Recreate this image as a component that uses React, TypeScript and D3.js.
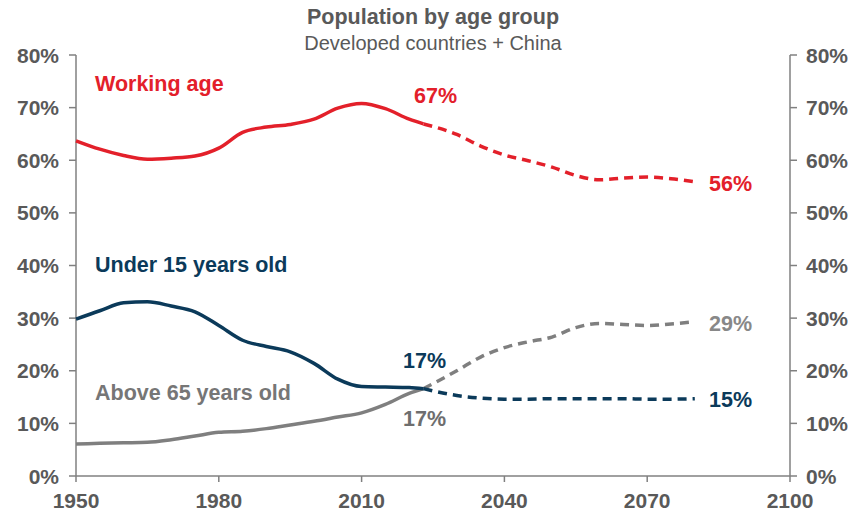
import React from "react";
import * as d3 from "d3";

// Share of population by age group, developed countries + China (%)
const histYears = [1950, 1955, 1960, 1965, 1970, 1975, 1980, 1985, 1990, 1995, 2000, 2005, 2010, 2015, 2020, 2023];
const projYears = [2023, 2030, 2035, 2040, 2045, 2050, 2055, 2060, 2065, 2070, 2075, 2080];

const workingHist = [63.7, 62.1, 60.9, 60.2, 60.4, 60.8, 62.3, 65.3, 66.3, 66.8, 67.8, 69.9, 70.8, 69.8, 67.8, 66.9];
const workingProj = [66.9, 64.9, 62.7, 61.0, 59.9, 58.7, 57.1, 56.3, 56.6, 56.8, 56.5, 55.9];

const under15Hist = [29.8, 31.4, 32.9, 33.1, 32.3, 31.2, 28.6, 25.8, 24.6, 23.6, 21.4, 18.4, 17.0, 16.9, 16.8, 16.6];
const under15Proj = [16.6, 15.3, 14.8, 14.6, 14.6, 14.7, 14.7, 14.7, 14.7, 14.6, 14.6, 14.7];

const over65Hist = [6.1, 6.2, 6.3, 6.4, 6.9, 7.6, 8.3, 8.5, 9.0, 9.7, 10.4, 11.2, 12.0, 13.6, 15.7, 16.6];
const over65Proj = [16.6, 20.0, 22.6, 24.4, 25.5, 26.4, 28.2, 29.0, 28.8, 28.6, 28.9, 29.3];

const xTicks = [1950, 1980, 2010, 2040, 2070, 2100];
const yTicks = [0, 10, 20, 30, 40, 50, 60, 70, 80];

const RED = "#E3202A";
const NAVY = "#0B3A5A";
const GRAY = "#7F7F7F";
const TEXT = "#595959";
const FONT = "'Liberation Sans', Arial, sans-serif";

const W = 866;
const H = 520;

export default function App() {
  const x = d3.scaleLinear().domain([1950, 2100]).range([76, 790]);
  const y = d3.scaleLinear().domain([0, 80]).range([476, 55]);

  const line = d3
    .line<[number, number]>()
    .x((d) => x(d[0]))
    .y((d) => y(d[1]))
    .curve(d3.curveMonotoneX);

  const pts = (years: number[], vals: number[]) => years.map((yr, i) => [yr, vals[i]] as [number, number]);

  const series = [
    { hist: workingHist, proj: workingProj, color: RED },
    { hist: over65Hist, proj: over65Proj, color: GRAY },
    { hist: under15Hist, proj: under15Proj, color: NAVY },
  ];

  const last = (arr: number[]) => arr[arr.length - 1];
  const pct = (v: number) => `${Math.round(v)}%`;

  const axisColor = "#808080";
  const labelStyle = { fontFamily: FONT, fontWeight: 700, fontSize: 21.5 } as const;

  return (
    <svg
      width={W}
      height={H}
      style={{ position: "absolute", left: 0, top: 0, background: "#fff" }}
      fontFamily={FONT}
    >
      {/* Title */}
      <text x={433} y={24} textAnchor="middle" fill={TEXT} fontWeight={700} fontSize={21.5}>
        Population by age group
      </text>
      <text x={433} y={50} textAnchor="middle" fill={TEXT} fontSize={20}>
        Developed countries + China
      </text>

      {/* Axes */}
      <g stroke={axisColor} strokeWidth={1.5} fill="none">
        <line x1={x(1950)} x2={x(1950)} y1={y(80)} y2={y(0)} />
        <line x1={x(2100)} x2={x(2100)} y1={y(80)} y2={y(0)} />
        <line x1={x(1950)} x2={x(2100)} y1={y(0)} y2={y(0)} />
        {yTicks.map((t) => (
          <g key={`yt${t}`}>
            <line x1={x(1950) - 7} x2={x(1950)} y1={y(t)} y2={y(t)} />
            <line x1={x(2100)} x2={x(2100) + 7} y1={y(t)} y2={y(t)} />
          </g>
        ))}
        {xTicks.map((t) => (
          <line key={`xt${t}`} x1={x(t)} x2={x(t)} y1={y(0)} y2={y(0) + 6} />
        ))}
      </g>
      <g fill={TEXT} fontWeight={700} fontSize={21}>
        {yTicks.map((t) => (
          <g key={`yl${t}`}>
            <text x={x(1950) - 17} y={y(t)} dy="0.36em" textAnchor="end">
              {`${t}%`}
            </text>
            <text x={x(2100) + 16} y={y(t)} dy="0.36em" textAnchor="start">
              {`${t}%`}
            </text>
          </g>
        ))}
        {xTicks.map((t) => (
          <text key={`xl${t}`} x={x(t)} y={508} textAnchor="middle">
            {t}
          </text>
        ))}
      </g>

      {/* Lines: solid history, dashed projection */}
      {series.map((s, i) => (
        <g key={i} fill="none" stroke={s.color} strokeWidth={3.5}>
          <path d={line(pts(histYears, s.hist)) || ""} strokeLinejoin="round" />
          <path d={line(pts(projYears, s.proj)) || ""} strokeDasharray="9,6" />
        </g>
      ))}

      {/* Series names */}
      <text x={95} y={91} fill={RED} style={labelStyle}>Working age</text>
      <text x={95} y={272} fill={NAVY} style={labelStyle}>Under 15 years old</text>
      <text x={95} y={400} fill="#767676" style={labelStyle}>Above 65 years old</text>

      {/* Value labels */}
      <text x={414} y={103} fill={RED} style={labelStyle}>{pct(last(workingHist))}</text>
      <text x={403} y={368} fill={NAVY} style={labelStyle}>{pct(last(under15Hist))}</text>
      <text x={403} y={426} fill="#6E6E6E" style={labelStyle}>{pct(last(over65Hist))}</text>
      <text x={709} y={191} fill={RED} style={labelStyle}>{pct(last(workingProj))}</text>
      <text x={709} y={331} fill="#888888" style={labelStyle}>{pct(last(over65Proj))}</text>
      <text x={709} y={407} fill={NAVY} style={labelStyle}>{pct(last(under15Proj))}</text>
    </svg>
  );
}
